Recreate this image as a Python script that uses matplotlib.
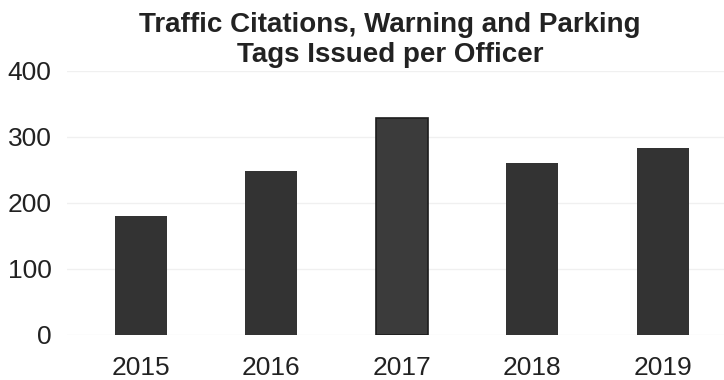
import matplotlib
matplotlib.use("Agg")
import matplotlib.pyplot as plt

years = ["2015", "2016", "2017", "2018", "2019"]
tags_per_officer = [180, 248, 329, 260, 283]
y_ticks = [0, 100, 200, 300, 400]

plt.rcParams['font.family'] = ['Liberation Sans', 'DejaVu Sans']

fig = plt.figure(figsize=(7.24, 3.8), dpi=100)
ax = fig.add_axes([67 / 724, 45 / 380, 657 / 724, 264 / 380])

x = range(len(years))
bars = ax.bar(x, tags_per_officer, width=0.4, color="#333333", zorder=3)
# the 2017 bar has a dark outline
bars[2].set_facecolor("#3b3b3b")
bars[2].set_edgecolor("#1c1c1c")
bars[2].set_linewidth(1.2)

ax.set_xlim(-0.567, 4.47)
ax.set_ylim(0, 400)
ax.set_yticks(y_ticks)
ax.set_xticks(list(x))
ax.set_xticklabels(years)
ax.grid(axis="y", color="#f0f0f0", linewidth=1, zorder=0)
for s in ax.spines.values():
    s.set_visible(False)
ax.tick_params(axis="both", length=0, labelsize=19, colors="#222222")
ax.tick_params(axis="x", pad=15)
ax.tick_params(axis="y", pad=11)

fig.text(0.539, 0.968, "Traffic Citations, Warning and Parking\nTags Issued per Officer",
         ha="center", va="top", fontsize=20, fontweight="bold", color="#222222",
         linespacing=1.19)

fig.savefig("out.png", dpi=100)
